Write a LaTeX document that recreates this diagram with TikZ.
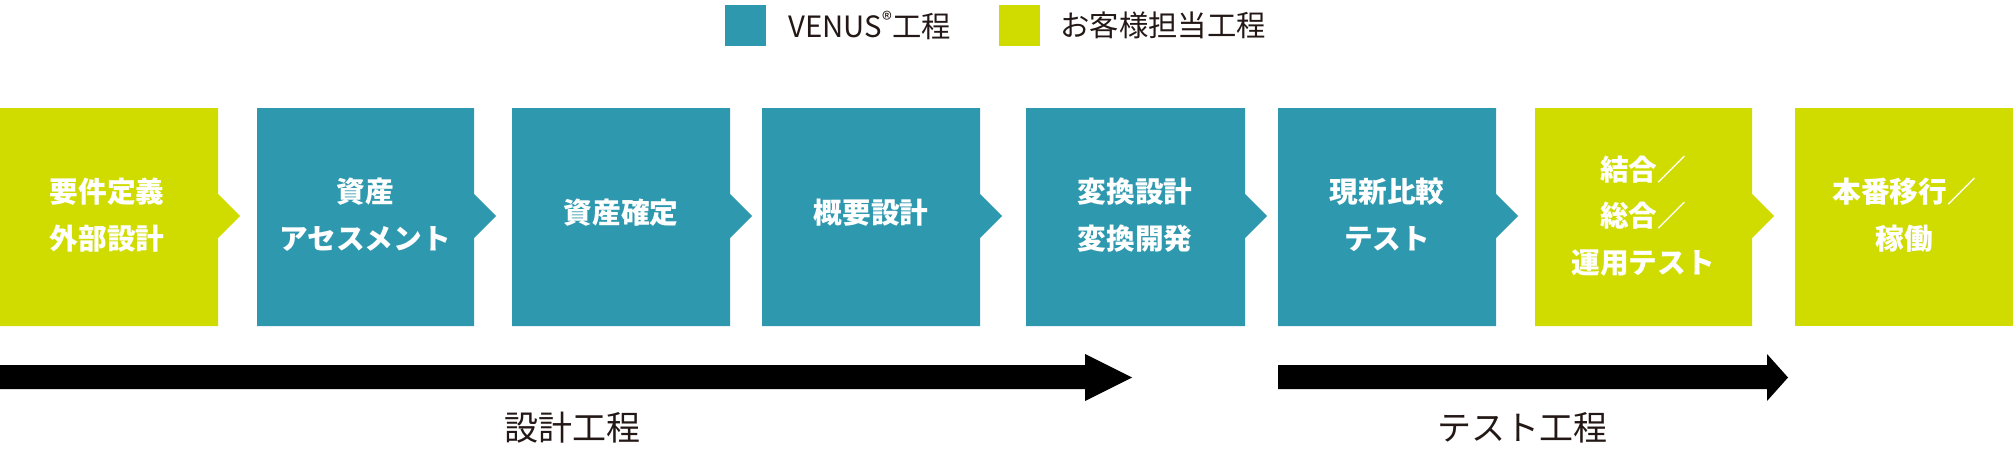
\documentclass[tikz,border=0pt]{standalone}
\usepackage{fontspec}
\newfontfamily\jp{Noto Sans CJK JP}

\definecolor{venusteal}{RGB}{46,152,174}
\definecolor{clientlime}{RGB}{208,220,0}
\definecolor{inkdark}{RGB}{35,24,21}

\tikzset{every picture/.style={line width=0.75pt}}
\tikzset{
  venus/.style={fill=venusteal, draw=none},
  client/.style={fill=clientlime, draw=none},
  boxlabel/.style={inner sep=0.75pt, align=center, text=white, font={\jp\bfseries\fontsize{21.5}{35}\selectfont}},
  legendlabel/.style={anchor=west, inner sep=0.75pt, text=inkdark, font={\jp\fontsize{22}{26}\selectfont}},
  phaselabel/.style={inner sep=0.75pt, text=inkdark, font={\jp\fontsize{25.5}{30}\selectfont}},
  phasearrow/.style={fill=black, draw=none}
}

\begin{document}
\begin{tikzpicture}[x=0.75pt,y=0.75pt,yscale=-1,xscale=1]
\useasboundingbox (0,0) rectangle (2013,453);

%Shape: Legend squares
\fill [venus] (725,5) rectangle (766,46) ;
\fill [client] (999,5) rectangle (1040,46) ;

%Shape: Chevron 1
\fill [client] (0,108) -- (218,108) -- (218,194) -- (240,216) -- (218,238) -- (218,326) -- (0,326) -- cycle ;
%Shape: Chevron 2
\fill [venus] (257,108) -- (474,108) -- (474,194) -- (496,216) -- (474,238) -- (474,326) -- (257,326) -- cycle ;
%Shape: Chevron 3
\fill [venus] (512,108) -- (730,108) -- (730,194) -- (752,216) -- (730,238) -- (730,326) -- (512,326) -- cycle ;
%Shape: Chevron 4
\fill [venus] (762,108) -- (980,108) -- (980,194) -- (1002,216) -- (980,238) -- (980,326) -- (762,326) -- cycle ;
%Shape: Chevron 5
\fill [venus] (1026,108) -- (1245,108) -- (1245,194) -- (1267,216) -- (1245,238) -- (1245,326) -- (1026,326) -- cycle ;
%Shape: Chevron 6
\fill [venus] (1278,108) -- (1496,108) -- (1496,194) -- (1518,216) -- (1496,238) -- (1496,326) -- (1278,326) -- cycle ;
%Shape: Chevron 7
\fill [client] (1535,108) -- (1752,108) -- (1752,194) -- (1774,216) -- (1752,238) -- (1752,326) -- (1535,326) -- cycle ;
%Shape: Rectangle 8
\fill [client] (1795,108) rectangle (2013,326) ;

%Shape: Block arrow (design)
\fill [phasearrow] (0,365) -- (1085,365) -- (1085,354) -- (1132,377.5) -- (1085,401) -- (1085,389) -- (0,389) -- cycle ;
%Shape: Block arrow (test)
\fill [phasearrow] (1278,365) -- (1767,365) -- (1767,354) -- (1788,377.5) -- (1767,401) -- (1767,389) -- (1278,389) -- cycle ;

% Text Node
\node (legvenus) at (787,25.5) [legendlabel] {VENUS\textsuperscript{®}工程};
% Text Node
\node (legclient) at (1059,25.5) [legendlabel] {お客様担当工程};

% Text Node
\node (youken) at (107,215) [boxlabel] {要件定義\\外部設計};
% Text Node
\node (shisan) at (365,215) [boxlabel] {資産\\アセスメント};
% Text Node
\node (kakutei) at (621,213) [boxlabel] {資産確定};
% Text Node
\node (gaiyou) at (871,213) [boxlabel] {概要設計};
% Text Node
\node (henkan) at (1135,215) [boxlabel] {変換設計\\変換開発};
% Text Node
\node (genshin) at (1387,215) [boxlabel] {現新比較\\テスト};
% Text Node
\node (ketsugou) at (1643,216) [boxlabel] {結合／\\総合／\\運用テスト};
% Text Node
\node (honban) at (1904,215) [boxlabel] {本番移行／\\稼働};

% Text Node
\node (sekkei) at (572,428) [phaselabel] {設計工程};
% Text Node
\node (test) at (1522,428) [phaselabel] {テスト工程};

\end{tikzpicture}
\end{document}
